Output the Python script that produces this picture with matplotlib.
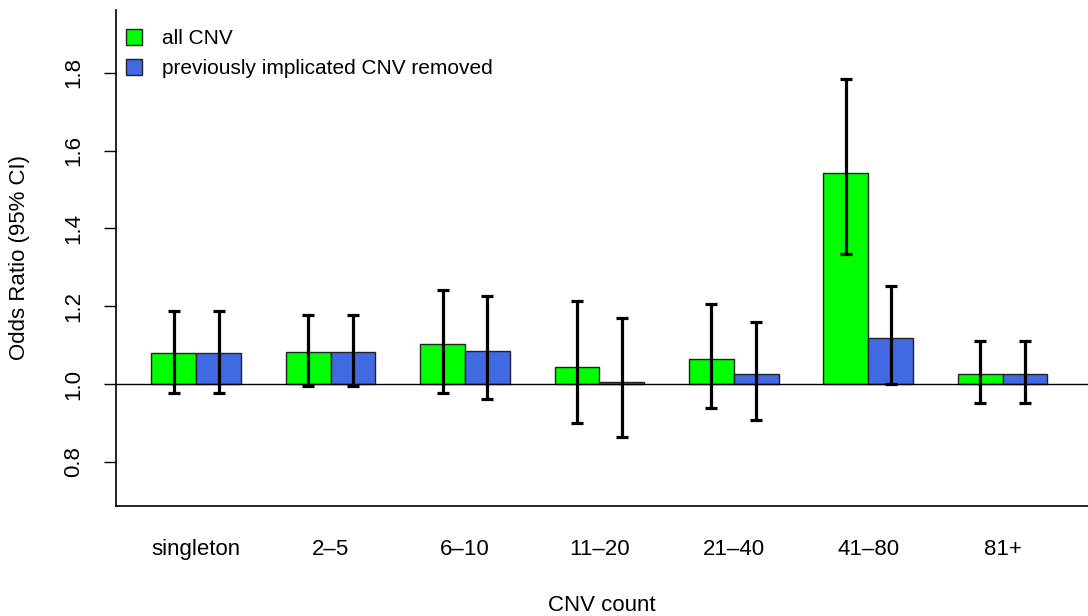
import matplotlib
matplotlib.use('Agg')
import matplotlib.pyplot as plt
import numpy as np

plt.rcParams['font.family'] = ['Liberation Sans', 'DejaVu Sans']

categories = ['singleton', '2\u20135', '6\u201310', '11\u201320', '21\u201340', '41\u201380', '81+']
or_all = [1.079, 1.083, 1.102, 1.045, 1.065, 1.543, 1.026]
lo_all = [0.978, 0.995, 0.978, 0.900, 0.939, 1.334, 0.950]
hi_all = [1.189, 1.177, 1.243, 1.213, 1.205, 1.784, 1.110]
or_rm = [1.079, 1.083, 1.086, 1.005, 1.026, 1.119, 1.026]
lo_rm = [0.978, 0.995, 0.962, 0.864, 0.908, 0.999, 0.950]
hi_rm = [1.189, 1.177, 1.227, 1.169, 1.159, 1.253, 1.110]

W, H = 1088, 616
fig = plt.figure(figsize=(W / 100, H / 100), dpi=100)
# axes box in pixels: left 115.5, right 1088, top 10, bottom 506
ax = fig.add_axes([115.5 / W, (H - 506) / H, (1088 - 115.5) / W, (506 - 10) / H])

# barplot layout: bars width 1, one unit gap between groups
n = len(categories)
left_green = 1 + 3 * np.arange(n)
x_green = left_green + 0.5
x_blue = left_green + 1.5

base = 1.0
ax.bar(x_green, np.array(or_all) - base, bottom=base, width=1.0,
       color='#00ff00', edgecolor='#222222', linewidth=1.0, zorder=2, label='all CNV')
ax.bar(x_blue, np.array(or_rm) - base, bottom=base, width=1.0,
       color='#4169e1', edgecolor='#222222', linewidth=1.0, zorder=2,
       label='previously implicated CNV removed')

ax.axhline(1.0, color='black', linewidth=1.0, zorder=3)

for xs, lo, hi in [(x_green, lo_all, hi_all), (x_blue, lo_rm, hi_rm)]:
    ax.vlines(xs, lo, hi, color='black', linewidth=2.3, zorder=4)
    ax.plot(xs, lo, linestyle='none', marker='_', markersize=8,
            markeredgewidth=2.3, color='black', zorder=4)
    ax.plot(xs, hi, linestyle='none', marker='_', markersize=8,
            markeredgewidth=2.3, color='black', zorder=4)

ax.set_xlim(0.2, (1088 - 106.5) / 44.8)
ax.set_ylim(0.6862, 1.962)

ax.spines['top'].set_visible(False)
ax.spines['right'].set_visible(False)
ax.spines['left'].set_linewidth(1.2)
ax.spines['bottom'].set_linewidth(1.2)

ax.set_yticks([0.8, 1.0, 1.2, 1.4, 1.6, 1.8])
ax.set_yticklabels(['0.8', '1.0', '1.2', '1.4', '1.6', '1.8'], rotation=90, va='center')
ax.tick_params(axis='y', length=8.5, width=1.0, labelsize=16, pad=14)

ax.set_xticks(left_green + 1.0)
ax.set_xticklabels(categories)
ax.tick_params(axis='x', length=0, labelsize=16, pad=24)

ax.set_xlabel('CNV count', fontsize=16, labelpad=25)
ax.set_ylabel('Odds Ratio (95% CI)', fontsize=16, labelpad=24)

ax.legend(loc='upper left', frameon=False, fontsize=15, handlelength=0.8,
          handleheight=0.8, handletextpad=0.95, labelspacing=0.5,
          borderaxespad=0.0, bbox_to_anchor=(0.002, 0.978))

fig.savefig('out.png', dpi=100)
